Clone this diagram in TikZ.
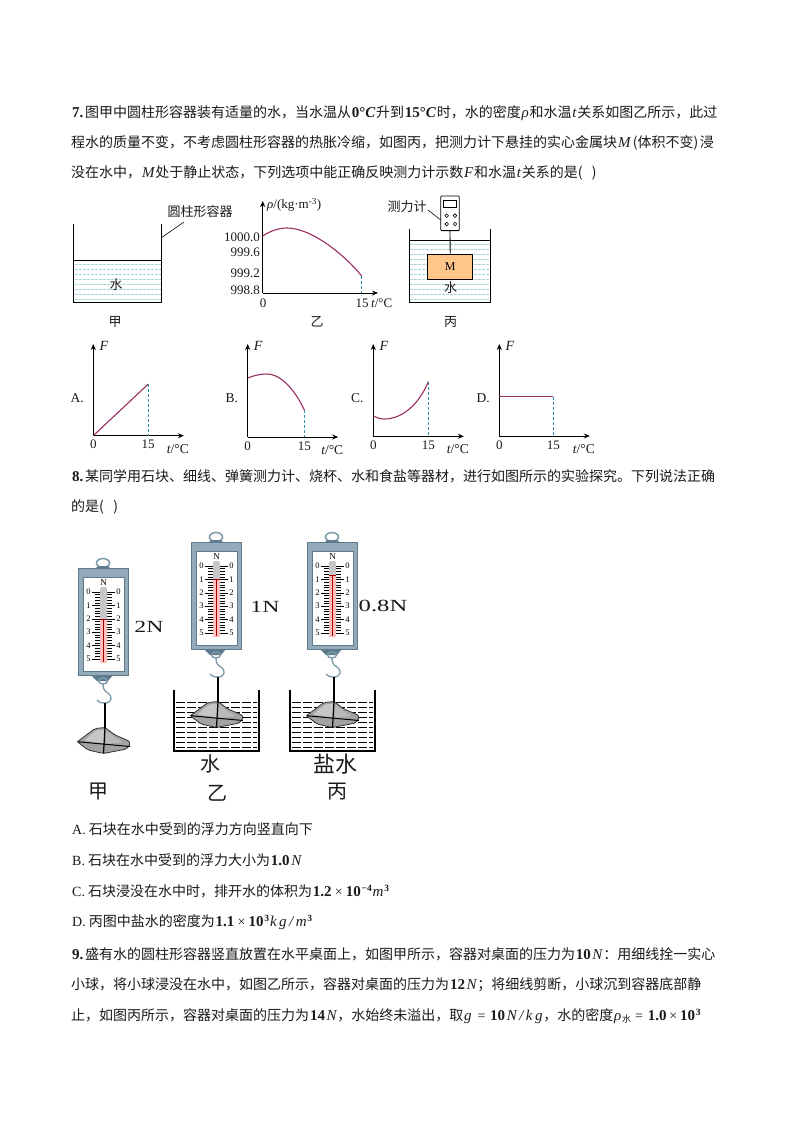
\documentclass[tikz,border=0pt]{standalone}
\usepackage{fontspec}
\setmainfont{Noto Sans CJK SC}
\newfontfamily\tmf{Liberation Serif}
\usetikzlibrary{arrows.meta}
\newcommand{\fs}[1]{\fontsize{#1}{#1}\selectfont}
\newcommand{\lat}[1]{{\tmf #1}}
\newcommand{\bl}[1]{\hspace{0.8pt}{\fs{15}\tmf\bfseries #1}\hspace{0.8pt}}
\newcommand{\il}[1]{\hspace{0.8pt}{\fs{15}\tmf\itshape #1}\hspace{0.8pt}}
\newcommand{\sps}[1]{\raisebox{5pt}{\fs{9.5}\tmf\bfseries #1}}
\newcommand{\tline}[3]{\node[anchor=west,inner sep=0pt,text=txt] at (#1,#2) {\fs{14}#3};}
\definecolor{txt}{HTML}{1A1A1A}
\definecolor{curvec}{HTML}{9A2F63}
\definecolor{dashc}{HTML}{2E8FA3}
\definecolor{waterc}{HTML}{A6D3DC}
\definecolor{steel}{HTML}{7E9BAA}
\definecolor{steeld}{HTML}{5D7B8C}
\definecolor{bodyc}{HTML}{95AAB8}
\tikzset{
  lab/.style={inner sep=0pt,text=txt,font=\fs{13}},
  numl/.style={inner sep=0pt,text=txt,font=\fs{13}\tmf},
  axis/.style={line width=0.9pt,-{Stealth[length=6pt,width=5pt]}},
  crv/.style={line width=1.1pt,curvec},
  dashv/.style={line width=0.8pt,dashc,dash pattern=on 3pt off 2pt},
  wline/.style={line width=0.5pt,waterc,dash pattern=on 3pt off 1pt},
  wall/.style={line width=0.8pt,black},
  big/.style={inner sep=0pt,text=txt,font=\fs{20}},
  forcel/.style={inner sep=0pt,text=txt,font=\fs{17}\tmf},
}
% small F-t graph: origin x, axis y, x of 15, letter
\newcommand{\optgraph}[4]{%
  \node[numl,font=\fs{13.5}\tmf] at (#1-16,398) {#4.};
  \draw[axis] (#1,#2) -- (#1,344);
  \draw[axis] (#1,#2) -- (#1+90.5,#2);
  \node[numl,font=\fs{14}\tmf\itshape] at (#1+10.5,346) {F};
  \node[numl] at (#1,#2+9) {0};
  \node[numl] at (#3,#2+9) {15};
  \node[numl,font=\fs{13.5}\tmf] at (#1+84.5,#2+13) {{\itshape t}/°C};
}
% spring scale drawn at the position of the first one, then shifted
\newcommand{\springscale}[3]{%
 \begin{scope}[shift={(#1,#2)}]
  \draw[steel,line width=1.6pt] (103,563) ellipse (6.5 and 4.5);
  \fill[steeld] (96,568) -- (98,566) -- (108,566) -- (110,568) -- cycle;
  \fill[bodyc] (78,568) rectangle (128,675);
  \draw[steeld,line width=0.6pt] (78,568) rectangle (128,675);
  \fill[white] (83,577) rectangle (124,671);
  \draw[steeld,line width=0.5pt] (83,577) rectangle (124,671);
  \node[inner sep=0pt,font=\fs{9}\tmf] at (103.5,583) {N};
  \foreach \d in {0,...,5}{
    \pgfmathsetmacro{\yy}{592+13.4*\d}
    \draw[black,line width=0.5pt] (92,\yy) -- (100,\yy) (107,\yy) -- (115,\yy);
    \node[inner sep=0pt,font=\fs{8.5}\tmf] at (88.5,\yy) {\d};
    \node[inner sep=0pt,font=\fs{8.5}\tmf] at (118.5,\yy) {\d};
  }
  \foreach \m in {1,...,24}{
    \pgfmathsetmacro{\yy}{592+2.68*\m}
    \draw[black,line width=0.4pt] (95,\yy) -- (100,\yy) (107,\yy) -- (112,\yy);
  }
  \fill[gray!45,rounded corners=1.5pt] (100,587) rectangle (107,663);
  \fill[red!25!white,rounded corners=1pt] (100,#3) rectangle (107,663);
  \draw[red!65!black,line width=1.4pt] (103.5,#3) -- (103.5,662);
  \draw[red!65!black,line width=0.8pt] (100,#3) -- (107,#3);
  \fill[steeld] (91,675) -- (113,675) -- (108,681) -- (97,681) -- cycle;
  \draw[steel,line width=1.4pt] (103,681) ellipse (4.5 and 3);
  \draw[steel,line width=1.3pt] (103,684) .. controls (103,688) and (104,691) .. (108,693)
     .. controls (113,696) and (112,703) .. (105,703) .. controls (101,703) and (98,702) .. (97,700);
  \draw[black,line width=1.2pt] (105,703) -- (105,730);
 \end{scope}
}
\newcommand{\rockshape}[2]{%
 \begin{scope}[shift={(#1,#2)}]
  \draw[black!80,line width=0.8pt,fill=gray!72,rounded corners=2pt] (77.3,741.7) -- (95,728.5) -- (105,727.5) -- (115,735) -- (128,740.5) -- (130.7,743) -- (126.7,749) -- (103.3,753.5) -- (88,750) -- cycle;
  \fill[gray!45,rounded corners=1.5pt] (84,740.5) -- (96,730.5) -- (104.5,729.5) -- (104,743.5) -- cycle;
  \fill[gray!55,rounded corners=1.5pt] (106,730) -- (114,737) -- (123,742) -- (105.5,744) -- cycle;
  \draw[black,line width=1pt] (77.3,741.7) -- (130,746.5);
  \draw[black,line width=1.2pt] (105,727.5) -- (103.5,753.5);
 \end{scope}
}
\newcommand{\beakerbox}[2]{%
  \foreach \k in {0,...,9}{
    \pgfmathsetmacro{\yy}{702+5*\k}
    \draw[black,line width=0.9pt,dash pattern=on 9pt off 2pt] (#1+2,\yy) -- (#2-2,\yy);
  }
  \draw[black,line width=1.1pt] (#1,690) -- (#1,751) -- (#2,751) -- (#2,690);
}
\begin{document}
\begin{tikzpicture}[x=1pt,y=-1pt]
\useasboundingbox (0,0) rectangle (794,1123);
\fill[white] (0,0) rectangle (794,1123);

% question 7
\tline{71}{113}{\bl{7.}\hspace{1pt}图甲中圆柱形容器装有适量的水，当水温从\bl{0°\itshape C}升到\bl{15°\itshape C}时，水的密度\il{ρ}和水温\il{t}关系如图乙所示，此过}
\tline{71}{143}{程水的质量不变，不考虑圆柱形容器的热胀冷缩，如图丙，把测力计下悬挂的实心金属块\il{M}\hspace{1.5pt}(体积不变)\hspace{1.5pt}浸}
\tline{71}{173}{没在水中，\il{M}处于静止状态，下列选项中能正确反映测力计示数\il{F}和水温\il{t}关系的是(\ \ \ )}

% figure jia
\foreach \k in {0,...,7}{
  \pgfmathsetmacro{\yy}{264+5*\k}
  \draw[wline] (74.5,\yy) -- (160.5,\yy);
}
\draw[wall] (73.7,224) -- (73.7,302) -- (161,302) -- (161,224);
\draw[wall] (73.7,260) -- (161,260);
\draw[line width=0.6pt] (161,238) -- (184,222);
\node[lab] at (200,212) {圆柱形容器};
\node[lab] at (116,285) {水};
\node[lab] at (115,322) {甲};

% figure yi
\draw[axis] (262.7,293) -- (262.7,201);
\draw[axis] (262.7,293) -- (378,293);
\draw[crv] (262.7,236) .. controls (270,231) and (279,228) .. (287,228) .. controls (310,228) and (342,252) .. (361.7,276);
\draw[dashv] (361.7,276) -- (361.7,293);
\node[numl,anchor=west] at (267,205) {{\itshape ρ}/(kg·m\textsuperscript{-3})};
\node[numl,anchor=east] at (260,237) {1000.0};
\node[numl,anchor=east] at (260,252) {999.6};
\node[numl,anchor=east] at (260,273) {999.2};
\node[numl,anchor=east] at (260,290) {998.8};
\node[numl] at (263,303) {0};
\node[numl] at (362,303) {15};
\node[numl,anchor=west] at (371,303) {{\itshape t}/°C};
\node[lab] at (317,322) {乙};

% figure bing
\foreach \k in {0,...,11}{
  \pgfmathsetmacro{\yy}{244+5*\k}
  \draw[wline] (410,\yy) -- (490,\yy);
}
\draw[wall] (409,229) -- (409,302) -- (490.7,302) -- (490.7,229);
\draw[wall] (409,240) -- (490.7,240);
\node[draw=black,line width=0.8pt,fill=white,rounded corners=1pt,minimum width=18.6pt,minimum height=34.7pt,inner sep=0pt] (meter) at (450,213.3) {};
\draw[line width=0.6pt] (443,200) rectangle (456.7,207);
\foreach \px/\py in {446.7/215.7,455/215.7,446.7/224,455/224}{
  \draw[line width=0.6pt] (\px,\py) circle (1.8);
}
\node[draw=black,line width=0.8pt,fill=orange!45!white,minimum width=45pt,minimum height=25pt,inner sep=0pt] (mblock) at (450.2,266.5) {\fs{12}\tmf M};
\draw[line width=0.8pt] (meter) -- (mblock);
\node[lab] (mlabel) at (407,207) {测力计};
\draw[line width=0.6pt] (428,210) -- (440.7,220);
\node[lab] at (450.7,288) {水};
\node[lab] at (450.7,322) {丙};

% option graphs
\optgraph{93.3}{435.7}{148}{A}
\draw[crv] (93.3,435.7) -- (148.3,384);
\draw[dashv] (148.3,384) -- (148.3,435.7);
\optgraph{247.7}{437}{304.3}{B}
\draw[crv] (247.7,378) .. controls (254,375.5) and (260,374) .. (266.7,374) .. controls (282,374) and (296,392) .. (304.3,410);
\draw[dashv] (304.3,410) -- (304.3,437);
\optgraph{373.3}{436.3}{428.3}{C}
\draw[crv] (373.3,416) .. controls (377,417.5) and (380,419) .. (384,419) .. controls (404,419) and (420,402) .. (428.3,381.7);
\draw[dashv] (428.3,381.7) -- (428.3,436.3);
\optgraph{499.3}{436}{553.3}{D}
\draw[crv,line width=1.4pt] (499.3,396.7) -- (553.3,396.7);
\draw[dashv] (553.3,396.7) -- (553.3,436);

% question 8
\tline{71}{476}{\bl{8.}\hspace{1pt}某同学用石块、细线、弹簧测力计、烧杯、水和食盐等器材，进行如图所示的实验探究。下列说法正确}
\tline{71}{507}{的是(\ \ \ )}

% spring scale experiment
\springscale{0}{0}{619}
\rockshape{0}{0}
\node[forcel] at (149,627) {\scalebox{1.4}[1]{2N}};
\node[big] at (98,792) {甲};

\beakerbox{174}{259}
\springscale{113}{-26}{605}
\rockshape{113}{-26}
\node[forcel] at (265,607) {\scalebox{1.4}[1]{1N}};
\node[big] at (210,764) {水};
\node[big] at (217,793) {乙};

\beakerbox{290}{375}
\springscale{229}{-26}{601}
\rockshape{229}{-26}
\node[forcel,anchor=west] at (358.5,606) {\scalebox{1.45}[1]{0.8N}};
\node[big,font=\fs{22}] at (335,764) {盐水};
\node[big] at (337,792) {丙};

% options
\tline{72}{829}{\lat{A.} 石块在水中受到的浮力方向竖直向下}
\tline{72}{860}{\lat{B.} 石块在水中受到的浮力大小为\bl{1.0}\il{N}}
\tline{72}{891}{\lat{C.} 石块浸没在水中时，排开水的体积为\bl{1.2}\lat{\,×\,}\bl{10}\sps{−4}\il{m}\sps{3}}
\tline{72}{922}{\lat{D.} 丙图中盐水的密度为\bl{1.1}\lat{\,×\,}\bl{10}\sps{3}\il{k\,g\,/\,m}\sps{3}}

% question 9
\tline{71}{954}{\bl{9.}\hspace{1pt}盛有水的圆柱形容器竖直放置在水平桌面上，如图甲所示，容器对桌面的压力为\bl{10}\il{N}：用细线拴一实心}
\tline{71}{985}{小球，将小球浸没在水中，如图乙所示，容器对桌面的压力为\bl{12}\il{N}；将细线剪断，小球沉到容器底部静}
\tline{71}{1016}{止，如图丙所示，容器对桌面的压力为\bl{14}\il{N}，水始终未溢出，取\il{g}\hspace{5pt}\lat{=}\hspace{4pt}\bl{10}\il{N\,/\,k\,g}，水的密度\il{ρ}\raisebox{-2pt}{\fs{9}水}\hspace{4pt}\lat{=}\hspace{4pt}\bl{1.0}\hspace{2pt}\lat{×}\hspace{2pt}\bl{10}\sps{3}}
\end{tikzpicture}
\end{document}
